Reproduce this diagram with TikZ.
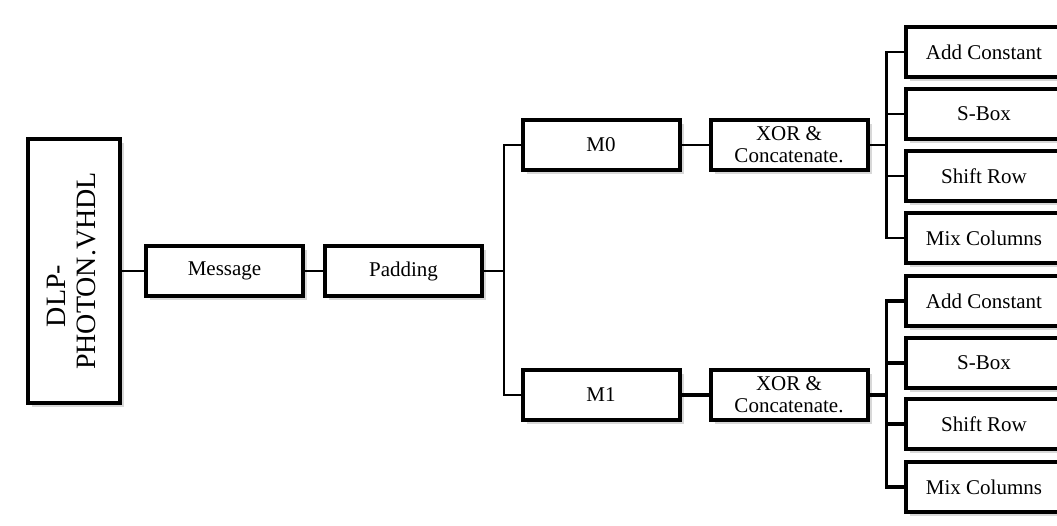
\documentclass[tikz,border=0pt]{standalone}
\usepackage{fontspec}
\setmainfont{Liberation Serif}
\usepackage{tikz}
\usetikzlibrary{positioning, shadows}
\tikzset{
x=1pt, y=-1pt, % one unit is one pixel of the layout, y going down
block/.style={draw, line width=4pt, fill=white, minimum width=157pt, minimum height=50pt, inner sep=1pt, align=center, font=\fontsize{21}{22}\selectfont, drop shadow={shadow xshift=4pt, shadow yshift=-4pt, opacity=0.3}}, % every box
link/.style={line width=2.4pt}, % thin connectors
heavylink/.style={line width=3.8pt}, % the heavier lower connectors
}

\begin{document}
\begin{tikzpicture}
    \useasboundingbox[fill=white] (0,0) rectangle (1057,526);
    \node[block, minimum width=92pt, minimum height=263pt, font=\fontsize{28}{30}\selectfont] (dlp) at (74,271) {\rotatebox{90}{\begin{tabular}{c}DLP-\hspace*{50pt}\\PHOTON.VHDL\end{tabular}}};
    \node[block, right=22pt of dlp] (msg) {Message};
    \node[block, right=18pt of msg] (pad) {Padding};
    \node[block] (m0) at (601,145) {M0};
    \node[block, right=27pt of m0] (xor0) {XOR \&\\Concatenate.};
    \node[block] (m1) at (601,395) {M1};
    \node[block, right=27pt of m1] (xor1) {XOR \&\\Concatenate.};
    % first round
    \node[block] (ac0) at (984,52) {Add Constant};
    \node[block] (sb0) at (984,114) {S-Box};
    \node[block] (sr0) at (984,176) {Shift Row};
    \node[block] (mc0) at (984,238) {Mix Columns};
    % second round
    \node[block] (ac1) at (984,301) {Add Constant};
    \node[block] (sb1) at (984,363) {S-Box};
    \node[block] (sr1) at (984,424) {Shift Row};
    \node[block] (mc1) at (984,487) {Mix Columns};

    \draw[link] (dlp.east) -- (msg.west);
    \draw[link] (msg.east) -- (pad.west);
    \draw[link] (pad.east) -- ++(20,0) coordinate (split);
    \draw[link] (m0.west) -| (split) |- (m1.west);
    \draw[link] (m0.east) -- (xor0.west);
    \draw[heavylink] (m1.east) -- (xor1.west);
    \draw[link] (xor0.east) -- ++(17,0) coordinate (t0);
    \draw[link] (ac0.west) -| (t0) |- (mc0.west);
    \draw[link] (sb0.west) -- (sb0.west -| t0);
    \draw[link] (sr0.west) -- (sr0.west -| t0);
    \draw[heavylink] (xor1.east) -- ++(17,0) coordinate (t1);
    \draw[heavylink] (ac1.west) -| (t1) |- (mc1.west);
    \draw[heavylink] (sb1.west) -- (sb1.west -| t1);
    \draw[heavylink] (sr1.west) -- (sr1.west -| t1);
\end{tikzpicture}
\end{document}
